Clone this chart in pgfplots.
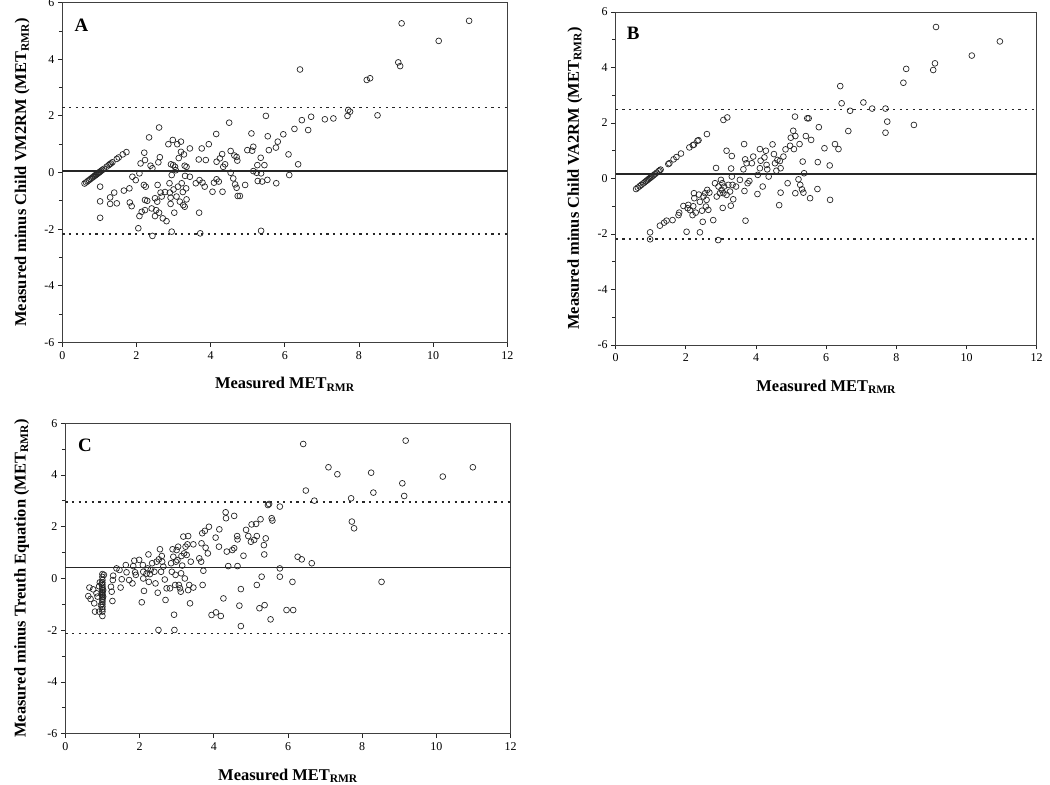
\documentclass[border=0pt]{standalone}
\usepackage{pgfplots}
\pgfplotsset{compat=1.18}
\usepackage{fontspec}
\setmainfont{Liberation Serif}
\newcommand\labfont{\fontsize{16.5}{18}\selectfont\bfseries}
\newcommand\tickfont{\fontsize{12}{13}\selectfont}

\pgfplotsset{
 panel/.style={
  scale only axis,
  xmin=0,xmax=12,ymin=-6,ymax=6,
  xtick={0,2,...,12}, ytick={-6,-4,...,6},
  minor ytick={-5,-3,...,5},
  tick align=outside, xtick pos=bottom, ytick pos=left,
  major tick length=4.5bp, minor tick length=3.5bp,
  tick style={black!85, line width=0.8bp},
  axis line style={black!75, line width=0.9bp},
  xticklabel={\tickfont\pgfmathprintnumber[assume math mode=true]{\tick}},
  yticklabel={\tickfont\pgfmathprintnumber[assume math mode=true]{\tick}},
  xticklabel style={yshift=-1bp},
  xlabel={Measured MET\textsubscript{RMR}},
  xlabel style={at={(axis description cs:0.5,0)}, anchor=center, yshift=-42bp, font=\labfont},
  ylabel style={rotate=0, anchor=center, font=\labfont},
  clip=false,
 },
 pts/.style={only marks, mark=o, mark size=2.9bp, mark options={line width=0.7bp, black!85}},
 meanline/.style={black!85, line width=1.4bp},
 loaline/.style={black!85, line width=1.6bp, dash pattern=on 2.2bp off 4.4bp},
}

\begin{document}
\begin{tikzpicture}
\useasboundingbox (0,0) rectangle (1050bp,785bp);

% ---------------- Panel A ----------------
\begin{axis}[panel, at={(62.3bp,442.7bp)}, anchor=south west, width=445bp, height=339.6bp,
  ylabel={Measured minus Child VM2RM (MET\textsubscript{RMR})},
  ylabel style={at={(axis description cs:-0.09,0.5)}}]
\addplot[meanline] coordinates {(0,0.05) (12,0.05)};
\addplot[loaline] coordinates {(0,2.29) (12,2.29)};
\addplot[loaline] coordinates {(0,-2.18) (12,-2.18)};
\addplot[pts] coordinates {
(0.60,-0.39)(0.64,-0.35)(0.68,-0.31)(0.72,-0.27)(0.76,-0.23)(0.80,-0.19)(0.83,-0.16)(0.86,-0.13)
(0.88,-0.11)(0.90,-0.09)(0.92,-0.07)(0.94,-0.05)(0.96,-0.03)(0.98,-0.01)(1.00,0.01)(1.02,0.03)
(1.05,0.06)(1.08,0.09)(1.12,0.13)(1.20,0.21)(1.25,0.26)(1.28,0.29)(1.31,0.32)(1.35,0.36)
(1.47,0.48)(1.52,0.53)(1.63,0.64)(1.73,0.72)
(1.02,-0.50)(1.02,-1.02)(1.02,-1.60)(1.29,-0.88)(1.29,-1.11)(1.40,-0.71)(1.47,-1.09)(1.66,-0.64)
(1.81,-0.56)(1.82,-1.06)(1.87,-1.19)(1.89,-0.15)(1.98,-0.27)(2.05,-1.97)(2.08,-0.03)(2.08,-1.54)
(2.11,0.32)(2.14,-1.39)(2.21,0.70)(2.23,0.44)(2.20,-0.44)(2.25,-0.50)(2.23,-0.97)(2.29,-1.00)
(2.23,-1.33)(2.34,1.24)(2.38,0.24)(2.43,0.15)(2.41,-1.27)(2.43,-2.24)(2.50,-0.91)(2.53,-1.33)
(2.50,-1.54)(2.56,-1.03)(2.57,-0.44)(2.59,0.36)(2.61,1.59)(2.63,0.54)(2.61,-1.42)(2.65,-0.71)
(2.68,-0.85)(2.71,-1.62)(2.77,-0.69)(2.81,-1.72)(2.86,1.00)(2.89,-0.38)(2.90,-0.71)(2.92,-0.89)
(2.92,-1.11)(2.93,0.29)(2.95,-0.09)(2.95,-2.09)(2.98,1.15)(2.99,0.26)(3.00,-0.60)(3.02,-1.42)
(3.04,0.20)(3.06,0.08)(3.08,-0.85)(3.10,1.00)(3.12,-0.50)(3.14,0.51)(3.17,-1.03)(3.20,1.09)
(3.20,0.73)(3.22,-0.38)(3.25,-0.69)(3.26,-1.15)(3.28,0.64)(3.30,0.24)(3.30,-1.21)(3.31,-0.12)
(3.34,-0.56)(3.35,-0.95)(3.35,0.20)(3.44,0.85)(3.44,-0.15)(3.60,-0.38)(3.68,0.46)(3.69,-1.42)
(3.70,-0.27)(3.72,-2.15)(3.76,0.85)(3.78,-0.36)(3.84,-0.50)(3.87,0.44)(3.95,1.00)(4.05,-0.68)
(4.09,-0.36)(4.15,1.36)(4.16,0.38)(4.16,-0.24)(4.22,-0.32)(4.25,0.50)(4.31,0.65)(4.32,-0.68)
(4.34,0.20)(4.39,0.29)(4.50,1.76)(4.54,0.76)(4.54,-0.01)(4.61,-0.21)(4.64,0.60)(4.66,-0.42)
(4.70,0.55)(4.70,-0.54)(4.72,0.42)(4.73,-0.83)(4.79,-0.83)(4.93,-0.44)(4.99,0.79)(5.10,1.38)
(5.12,0.77)(5.15,0.91)(5.15,0.05)(5.24,-0.01)(5.26,0.26)(5.27,-0.30)(5.35,0.52)(5.36,-0.03)
(5.36,-2.06)(5.39,-0.32)(5.45,0.26)(5.49,2.00)(5.53,-0.26)(5.54,1.28)(5.57,0.79)(5.76,0.88)
(5.77,-0.38)(5.81,1.09)(5.96,1.35)(6.10,0.64)(6.12,-0.09)(6.26,1.54)(6.36,0.29)(6.41,3.64)
(6.46,1.85)(6.63,1.50)(6.71,1.97)(7.08,1.88)(7.31,1.91)(7.69,2.00)(7.71,2.21)(7.76,2.15)
(8.21,3.27)(8.30,3.33)(8.50,2.02)(9.06,3.89)(9.11,3.76)(9.15,5.27)(10.15,4.65)(10.97,5.36)
};
\node[anchor=center, font=\fontsize{19}{20}\selectfont\bfseries] at (axis cs:0.52,5.21) {A};
\end{axis}

% ---------------- Panel B ----------------
\begin{axis}[panel, at={(615.7bp,440bp)}, anchor=south west, width=421bp, height=333bp,
  ylabel={Measured minus Child VA2RM (MET\textsubscript{RMR})},
  ylabel style={at={(axis description cs:-0.097,0.5)}}]
\addplot[meanline] coordinates {(0,0.16) (12,0.16)};
\addplot[loaline] coordinates {(0,2.49) (12,2.49)};
\addplot[loaline] coordinates {(0,-2.18) (12,-2.18)};
\addplot[pts] coordinates {
(0.58,-0.38)(0.63,-0.33)(0.68,-0.28)(0.73,-0.23)(0.78,-0.18)(0.82,-0.14)(0.86,-0.10)(0.89,-0.07)
(0.92,-0.04)(0.95,-0.01)(0.98,0.02)(1.01,0.05)(1.04,0.08)(1.08,0.12)(1.12,0.16)(1.17,0.21)
(1.22,0.26)(1.25,0.29)(1.28,0.32)(1.50,0.52)(1.53,0.55)(1.65,0.69)(1.73,0.77)(1.86,0.90)
(2.10,1.12)(2.20,1.20)(2.23,1.22)(2.33,1.36)(2.36,1.38)(2.60,1.60)(3.07,2.11)(3.18,2.20)
(0.98,-1.94)(0.98,-2.19)(1.26,-1.70)(1.38,-1.59)(1.45,-1.52)(1.62,-1.50)(1.79,-1.32)(1.81,-1.23)
(1.93,-0.99)(2.02,-1.92)(2.05,-1.07)(2.07,-0.95)(2.12,-1.14)(2.19,-1.32)(2.21,-1.00)(2.23,-0.53)
(2.24,-0.71)(2.28,-1.23)(2.37,-0.58)(2.40,-1.94)(2.40,-0.84)(2.46,-1.16)(2.48,-1.56)(2.50,-0.65)
(2.55,-0.53)(2.57,-1.01)(2.59,-0.77)(2.61,-0.41)(2.64,-1.13)(2.67,-0.51)(2.78,-1.50)(2.83,-0.17)
(2.86,0.38)(2.88,-0.65)(2.92,-2.22)(2.93,-0.29)(2.97,-0.53)(3.00,-0.05)(3.02,-0.41)(3.04,-0.17)
(3.05,-1.06)(3.07,-0.53)(3.09,-0.29)(3.16,1.00)(3.16,-0.59)(3.21,-0.23)(3.26,-0.47)(3.28,-0.98)
(3.29,0.36)(3.31,0.81)(3.31,0.07)(3.33,-0.23)(3.35,-0.75)(3.43,-0.29)(3.54,-0.05)(3.64,0.33)
(3.66,1.24)(3.67,-0.45)(3.69,0.69)(3.70,-1.52)(3.73,0.55)(3.76,-0.17)(3.81,-0.09)(3.88,0.55)
(3.92,0.79)(4.04,-0.56)(4.05,0.13)(4.11,0.37)(4.11,1.06)(4.13,0.64)(4.19,-0.29)(4.24,0.76)
(4.28,1.00)(4.30,0.49)(4.32,0.33)(4.36,0.07)(4.47,1.23)(4.51,0.88)(4.54,0.55)(4.58,0.28)
(4.61,0.67)(4.66,-0.96)(4.68,0.63)(4.70,0.37)(4.70,-0.51)(4.78,0.79)(4.84,1.05)(4.90,-0.17)
(4.97,1.18)(4.99,1.47)(5.06,1.72)(5.08,1.06)(5.11,2.23)(5.12,1.53)(5.12,-0.53)(5.21,-0.03)
(5.24,1.24)(5.26,-0.23)(5.31,-0.39)(5.33,0.61)(5.35,-0.51)(5.37,0.19)(5.42,1.53)(5.46,2.17)
(5.50,2.17)(5.54,-0.71)(5.57,1.39)(5.75,-0.38)(5.76,0.59)(5.79,1.85)(5.95,1.09)(6.10,0.47)
(6.11,-0.77)(6.25,1.24)(6.35,1.06)(6.40,3.33)(6.44,2.71)(6.63,1.71)(6.68,2.44)(7.06,2.74)
(7.31,2.52)(7.69,2.52)(7.69,1.65)(7.74,2.05)(8.20,3.45)(8.28,3.95)(8.50,1.93)(9.05,3.91)
(9.10,4.15)(9.13,5.46)(10.15,4.43)(10.95,4.94)
};
\node[anchor=center, font=\fontsize{19}{20}\selectfont\bfseries] at (axis cs:0.50,5.23) {B};
\end{axis}

% ---------------- Panel C ----------------
\begin{axis}[panel, at={(65.3bp,51.3bp)}, anchor=south west, width=445.4bp, height=310.4bp,
  ylabel={Measured minus Treuth Equation (MET\textsubscript{RMR})},
  ylabel style={at={(axis description cs:-0.098,0.5)}}]
\addplot[meanline] coordinates {(0,0.42) (12,0.42)};
\addplot[loaline] coordinates {(0,2.95) (12,2.95)};
\addplot[loaline] coordinates {(0,-2.12) (12,-2.12)};
\addplot[pts] coordinates {
(0.62,-0.68)(0.65,-0.35)(0.68,-0.79)(0.75,-0.42)(0.78,-0.96)(0.80,-1.28)(0.84,-0.57)(0.87,-0.70)
(0.91,-1.28)(0.91,-0.30)(0.93,-0.15)(0.96,-1.03)
(1.00,0.17)(1.00,0.06)(1.00,-0.06)(1.00,-0.16)(1.00,-0.25)(1.00,-0.32)(1.00,-0.38)(1.00,-0.45)
(1.00,-0.51)(1.00,-0.57)(1.00,-0.64)(1.00,-0.70)(1.00,-0.77)(1.00,-0.83)(1.00,-0.90)(1.00,-0.99)
(1.00,-1.09)(1.00,-1.19)(1.00,-1.28)(1.00,-1.45)(1.02,-0.45)(1.02,-0.70)(0.98,-0.60)(0.98,-0.20)
(1.04,0.14)(1.23,-0.32)(1.25,-0.51)(1.27,-0.87)(1.28,-0.06)(1.29,0.11)(1.38,0.39)(1.46,0.33)
(1.49,-0.35)(1.52,-0.03)(1.63,0.52)(1.65,0.24)(1.72,-0.06)(1.81,-0.19)(1.83,0.48)(1.86,0.69)
(1.88,0.24)(1.90,0.14)(1.99,0.72)(2.06,-0.92)(2.09,0.52)(2.10,0.26)(2.10,0.00)(2.12,-0.48)
(2.19,0.19)(2.22,0.39)(2.24,0.93)(2.25,-0.13)(2.28,0.17)(2.30,0.33)(2.34,0.59)(2.40,0.26)
(2.43,-0.19)(2.46,0.65)(2.49,-0.55)(2.51,-1.99)(2.52,0.74)(2.55,1.13)(2.58,0.26)(2.60,0.87)
(2.61,0.65)(2.64,0.46)(2.68,-0.04)(2.70,-0.83)(2.73,-0.38)(2.82,-0.38)(2.85,0.59)(2.87,0.26)
(2.89,1.13)(2.91,0.84)(2.93,-1.40)(2.94,-1.99)(2.96,-0.25)(2.97,0.14)(2.98,0.65)(3.00,1.10)
(3.02,0.71)(3.04,1.23)(3.06,-0.25)(3.09,-0.38)(3.11,-0.51)(3.12,0.20)(3.13,0.87)(3.15,0.50)
(3.18,1.62)(3.20,0.97)(3.22,0.00)(3.24,1.23)(3.27,0.91)(3.29,1.32)(3.31,1.64)(3.31,-0.45)
(3.34,-0.25)(3.36,-0.96)(3.38,0.65)(3.45,1.32)(3.45,-0.35)(3.61,0.78)(3.66,0.65)(3.67,1.36)
(3.69,1.75)(3.70,-0.25)(3.72,0.30)(3.76,1.84)(3.78,1.19)(3.84,0.97)(3.87,2.00)(3.94,-1.41)
(4.05,1.58)(4.06,-1.31)(4.14,1.23)(4.15,1.90)(4.19,-1.45)(4.26,-0.77)(4.32,2.56)(4.33,2.33)
(4.35,1.04)(4.39,0.48)(4.50,1.10)(4.55,2.42)(4.55,1.17)(4.63,1.64)(4.64,1.51)(4.64,0.48)
(4.69,-1.05)(4.73,-0.41)(4.73,-1.84)(4.80,0.88)(4.87,1.88)(4.93,1.64)(5.00,1.42)(5.02,2.09)
(5.09,1.49)(5.14,2.11)(5.16,-0.25)(5.16,1.64)(5.23,-1.15)(5.26,2.29)(5.29,0.07)(5.35,1.29)
(5.36,0.93)(5.37,-1.03)(5.40,1.55)(5.46,2.84)(5.49,2.88)(5.53,-1.58)(5.56,2.33)(5.58,2.24)
(5.78,2.78)(5.78,0.39)(5.78,0.07)(5.96,-1.22)(6.12,-0.13)(6.14,-1.22)(6.26,0.84)(6.37,0.74)
(6.41,5.20)(6.48,3.40)(6.64,0.59)(6.71,3.01)(7.09,4.30)(7.33,4.03)(7.70,3.10)(7.72,2.20)
(7.78,1.94)(8.24,4.09)(8.30,3.32)(8.52,-0.13)(9.08,3.68)(9.13,3.19)(9.17,5.33)(10.17,3.94)
(10.98,4.30)
};
\node[anchor=center, font=\fontsize{19}{20}\selectfont\bfseries] at (axis cs:0.53,5.16) {C};
\end{axis}
\end{tikzpicture}
\end{document}
